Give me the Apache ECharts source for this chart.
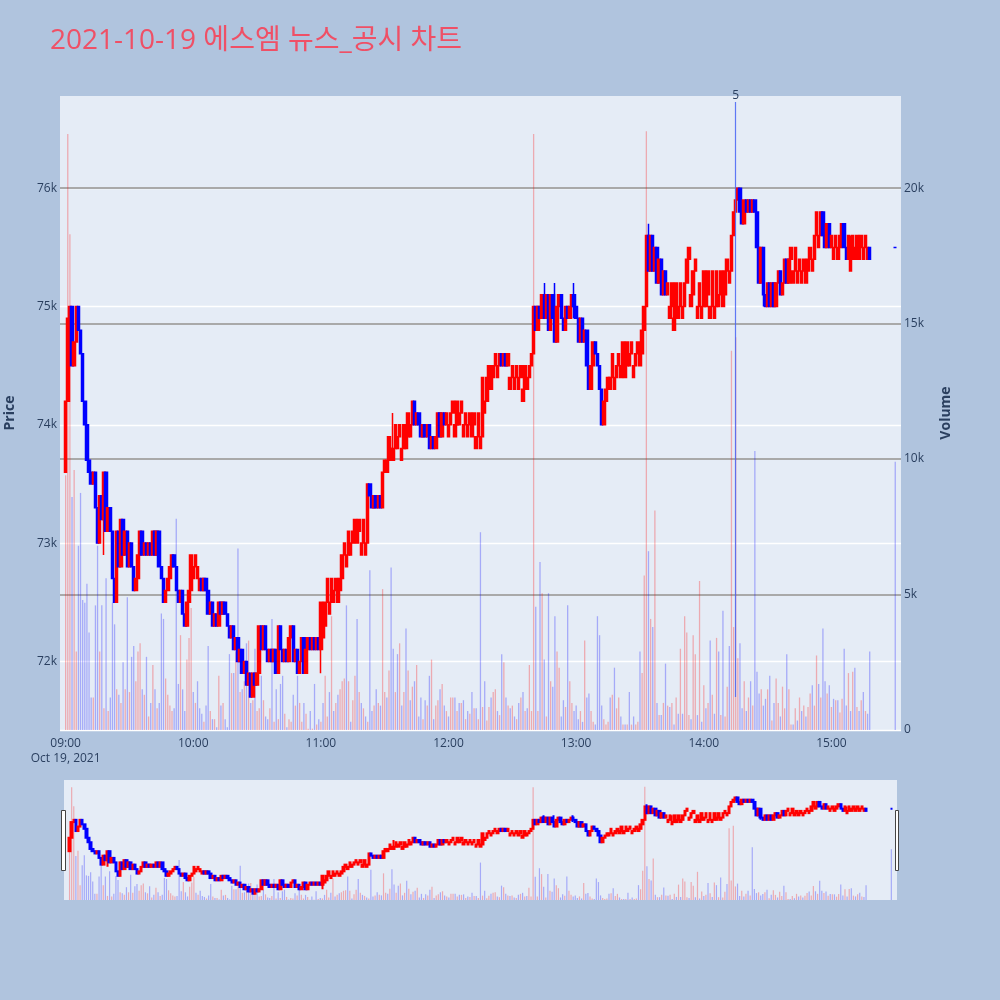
<!DOCTYPE html>
<html>
<head>
<meta charset="utf-8">
<script src="https://cdn.jsdelivr.net/npm/echarts@6/dist/echarts.min.js"></script>
<style>
html, body { margin: 0; padding: 0; background: #B0C4DE; }
#main { width: 1000px; height: 1000px; }
</style>
</head>
<body>
<div id="main"></div>
<script>
// 1분봉 데이터 (가격은 100원 단위, 09:00 부터 1분 간격)
var firstOpen = 736;
var closes = [
    742, 749, 750, 745, 747, 750, 748, 746, 742, 740,
    737, 736, 735, 736, 733, 730, 734, 732, 736, 731,
    733, 731, 727, 725, 731, 728, 732, 729, 731, 728,
    730, 728, 726, 727, 729, 731, 729, 730, 729, 730,
    729, 731, 729, 731, 728, 727, 725, 726, 727, 728,
    729, 728, 726, 725, 726, 724, 723, 725, 726, 729,
    728, 729, 728, 727, 726, 727, 726, 724, 725, 723,
    724, 723, 725, 724, 725, 724, 723, 722, 723, 721,
    722, 720, 721, 719, 720, 718, 719, 717, 719, 718,
    719, 723, 721, 723, 721, 720, 721, 720, 721, 719,
    723, 721, 720, 721, 720, 722, 723, 720, 721, 719,
    720, 722, 719, 721, 722, 721, 722, 721, 722, 721,
    725, 723, 725, 727, 725, 727, 726, 727, 726, 727,
    729, 730, 729, 731, 730, 731, 732, 731, 732, 730,
    732, 730, 735, 734, 733, 734, 733, 734, 733, 736,
    737, 737, 739, 738, 738, 740, 739, 740, 738, 740,
    739, 741, 740, 742, 740, 741, 740, 739, 740, 739,
    740, 738, 739, 738, 739, 741, 739, 741, 740, 741,
    740, 741, 742, 740, 742, 741, 742, 740, 741, 740,
    741, 740, 741, 739, 741, 739, 744, 742, 744, 745,
    744, 745, 746, 745, 746, 745, 746, 745, 746, 744,
    745, 744, 745, 744, 745, 743, 745, 744, 745, 746,
    750, 748, 750, 749, 751, 749, 751, 748, 751, 749,
    747, 750, 751, 749, 748, 750, 749, 750, 751, 750,
    749, 747, 749, 747, 748, 745, 743, 745, 747, 746,
    745, 743, 740, 742, 743, 744, 744, 746, 744, 745,
    746, 745, 747, 745, 747, 746, 747, 745, 746, 747,
    746, 748, 750, 756, 753, 756, 753, 755, 752, 754,
    751, 753, 751, 752, 750, 752, 749, 752, 750, 752,
    750, 752, 754, 755, 751, 753, 754, 750, 752, 750,
    753, 751, 753, 750, 753, 750, 753, 751, 753, 751,
    753, 754, 753, 756, 758, 759, 760, 758, 757, 759,
    758, 759, 758, 759, 758, 755, 752, 755, 751, 750,
    752, 750, 752, 750, 752, 753, 751, 752, 754, 752,
    754, 755, 753, 755, 753, 754, 753, 754, 753, 754,
    755, 754, 756, 758, 756, 758, 756, 755, 757, 755,
    756, 755, 756, 755, 756, 757, 755, 754, 756, 754,
    756, 755, 756, 755, 756, 755, 756, 755, 754
];
// 꼬리 [분, 고가, 저가]
var wicks = [
    [18, 736, 729], [120, 725, 719], [154, 741, 737], [225, 752, 749],
    [230, 752, 747], [239, 752, 749], [274, 757, 753], [286, 752, 749],
    [328, 755, 750], [369, 756, 753]
];
// 양봉(빨강)이 이어지는 구간 [시작 분, 끝 분]: 시가가 종가보다 한 호가 아래
var redRuns = [
    [59, 63], [120, 141], [149, 162], [180, 204], [209, 218],
    [253, 270], [283, 312], [340, 354], [360, 364], [369, 377]
];

// 거래량 (구간별 시작 분: volStarts)
var volStarts = [0, 97, 192, 290];
var volSeg1 = [
    9400, 22000, 18300, 8600, 9600,
    2900, 6800, 8750, 4800, 4700, 5400, 3600, 1200, 1200, 4600,
    6800, 2900, 4600, 800, 5600, 700, 1200, 4700, 3900, 1500,
    1300, 1000, 2500, 1500, 4900, 1400, 2700, 3100, 1800, 2900,
    3200, 1500, 1300, 2700, 500, 1000, 2400, 1500, 800, 1000,
    4300, 4100, 1900, 1300, 900, 700, 800, 7800, 1700, 3500,
    1500, 700, 2600, 3400, 4500, 1400, 1000, 1800, 800, 600,
    300, 900, 3100, 700, 400, 400, 100, 2000, 900, 1000,
    400, 100, 2800, 2100, 2100, 2900, 6700, 1400, 1500, 1800,
    3200, 3300, 1000, 1100, 3000, 700, 800, 2000, 1100, 500,
    400, 800
];
var volSeg2 = [
    4100, 300, 1500, 400, 1700, 2000, 600, 100, 400, 300,
    1300, 900, 2000, 1000, 300, 1000, 600, 50, 700, 50,
    1700, 200, 400, 300, 1000, 2000, 500, 1400, 4200, 700,
    1000, 1300, 1500, 1800, 1900, 4600, 1800, 300, 1100, 2000,
    4100, 1400, 1000, 800, 500, 300, 5900, 700, 900, 1500,
    1000, 900, 5200, 1400, 1200, 2200, 6000, 3000, 1400, 2800,
    3200, 900, 1400, 3750, 2200, 1100, 1600, 1800, 2400, 500,
    1200, 400, 1100, 900, 2000, 2600, 400, 900, 1100, 1500,
    1700, 900, 700, 500, 1200, 1200, 1200, 700, 1000, 1000,
    1100, 400, 700, 600, 1400, 900, 900
];
var volSeg3 = [
    800, 800, 400, 7300, 850, 1800, 350, 850, 1200, 1400,
    1500, 700, 550, 2800, 2500, 1200, 900, 800, 900, 500,
    400, 1000, 1200, 1400, 700, 800, 2400, 700, 22000, 4550,
    700, 6200, 5050, 2600, 500, 5050, 1800, 1600, 4200, 2900,
    2300, 500, 1100, 850, 4600, 1800, 1000, 700, 900, 400,
    700, 300, 3300, 1200, 1350, 700, 300, 200, 4200, 3500,
    900, 400, 200, 300, 1200, 1300, 2300, 800, 1200, 500,
    200, 200, 200, 1400, 200, 500, 200, 300, 2900, 2100,
    5700, 22100, 6600, 4100, 3800, 8100, 1000, 550, 550, 1000,
    2450, 900, 850, 1000, 200, 1200, 600, 3000
];
var volSeg4 = [
    600, 4200, 3600, 550, 400, 3500, 2800, 550, 5500, 300,
    1650, 800, 1000, 3300, 1300, 600, 3400, 2900, 550, 4400,
    500, 1600, 3100, 14000, 3800, 14500, 2650, 3200, 800, 1800,
    700, 1200, 1800, 900, 10300, 2150, 1350, 1500, 900, 1150,
    1500, 2000, 350, 1000, 1900, 1000, 500, 1600, 800, 2800,
    1500, 200, 200, 800, 350, 1200, 700, 900, 500, 850,
    1350, 1650, 900, 2750, 1700, 1200, 3750, 1800, 1350, 1650,
    850, 1150, 1100, 1100, 650, 1150, 3000, 900, 2100, 700,
    2150, 2300, 850, 700, 1100, 1400, 700, 600, 2900
];
// 15:30 종가 단일가 [가격, 거래량]
var closeAuction = [755, 9900];
// 뉴스 표시선 (14:15, "5")
var newsMinute = 315;
var newsLabel = '5';
var newsRange = [71700, 76730];

var UP = '#ff0000', DOWN = '#0000ff';
var UP_VOL = 'rgba(255,0,0,0.28)', DOWN_VOL = 'rgba(0,0,255,0.28)';
var NEWS = 'rgba(70,100,245,0.85)';
var FONT = '"Open Sans", verdana, arial, sans-serif';
var TICK = '#2a3f5f';

function t(m) { return new Date(2021, 9, 19, 9, m).getTime(); }
function pad(n) { return n < 10 ? '0' + n : '' + n; }
function inRedRun(m) {
    return redRuns.some(function (r) { return m >= r[0] && m <= r[1]; });
}

var vols = [];
[volSeg1, volSeg2, volSeg3, volSeg4].forEach(function (seg, k) {
    seg.forEach(function (v, i) { vols[volStarts[k] + i] = v; });
});
var wickMap = {};
wicks.forEach(function (w) { wickMap[w[0]] = w; });

var candleData = [], volData = [];
var prev = firstOpen;
closes.forEach(function (c, m) {
    var o = prev;
    var volUp = c > prev;
    if (inRedRun(m) && c <= o) o = c - 1;
    var hi = Math.max(o, c), lo = Math.min(o, c);
    if (wickMap[m]) {
        hi = Math.max(hi, wickMap[m][1]);
        lo = Math.min(lo, wickMap[m][2]);
    }
    candleData.push([t(m), o * 100, c * 100, lo * 100, hi * 100]);
    if (vols[m] != null) {
        volData.push({ value: [t(m), vols[m]], itemStyle: { color: volUp ? UP_VOL : DOWN_VOL } });
    }
    prev = c;
});
var ca = closeAuction[0] * 100;
candleData.push({
    value: [t(390), ca, ca, ca, ca],
    itemStyle: { color: DOWN, color0: DOWN, borderColor: DOWN, borderColor0: DOWN }
});
volData.push({ value: [t(390), closeAuction[1]], itemStyle: { color: DOWN_VOL } });

var xMin = new Date(2021, 9, 19, 8, 57, 39).getTime();
var xMax = new Date(2021, 9, 19, 15, 32, 24).getTime();
var priceMin = 71420, priceMax = 76780;
var volMin = 0, volMax = 23400;

var candleStyle = {
    color: UP, color0: DOWN, borderColor: UP, borderColor0: DOWN, borderWidth: 1.5
};
var miniCandleStyle = {
    color: UP, color0: DOWN, borderColor: UP, borderColor0: DOWN, borderWidth: 2
};

var myChart = echarts.init(document.getElementById('main'));
var option = {
    backgroundColor: '#B0C4DE',
    animation: false,
    title: {
        text: '2021-10-19 에스엠 뉴스_공시 차트',
        left: 50,
        top: 27,
        padding: 0,
        textStyle: {
            color: '#ef5066',
            fontSize: 28,
            fontWeight: 'normal',
            fontFamily: '"Open Sans", "Noto Sans CJK KR", sans-serif'
        }
    },
    grid: [
        { left: 60, right: 99, top: 96, height: 634, show: true, backgroundColor: '#E5ECF6', borderWidth: 0, outerBoundsMode: 'none', containLabel: false },
        { left: 64, right: 103, top: 780, height: 120, show: true, backgroundColor: '#E5ECF6', borderWidth: 0, outerBoundsMode: 'none', containLabel: false }
    ],
    xAxis: [
        {
            type: 'time', gridIndex: 0, min: xMin, max: xMax, splitNumber: 6,
            axisLine: { show: false }, axisTick: { show: false },
            splitLine: { show: false },
            axisLabel: {
                color: TICK, fontSize: 12, fontFamily: FONT, margin: 6, lineHeight: 15,
                formatter: function (v) {
                    var d = new Date(v);
                    var s = pad(d.getHours()) + ':' + pad(d.getMinutes());
                    return (d.getHours() === 9 && d.getMinutes() === 0) ? s + '\nOct 19, 2021' : s;
                }
            }
        },
        { type: 'time', gridIndex: 1, min: xMin, max: xMax, show: false }
    ],
    yAxis: [
        {
            type: 'value', gridIndex: 0, position: 'left', min: priceMin, max: priceMax,
            name: 'Price', nameLocation: 'middle', nameGap: 43,
            nameTextStyle: { color: TICK, fontSize: 14, fontWeight: 'bold', fontFamily: FONT },
            axisLine: { show: false }, axisTick: { show: false },
            axisLabel: {
                color: TICK, fontSize: 12, fontFamily: FONT, margin: 3,
                showMinLabel: false, showMaxLabel: false,
                formatter: function (v) { return v % 1000 === 0 ? (v / 1000) + 'k' : ''; }
            },
            splitLine: { show: true, showMinLine: true, showMaxLine: false, lineStyle: { color: '#ffffff', width: 1.3 } }
        },
        {
            type: 'value', gridIndex: 0, position: 'right', min: volMin, max: volMax,
            name: 'Volume', nameLocation: 'middle', nameGap: 38,
            nameTextStyle: { color: TICK, fontSize: 14, fontWeight: 'bold', fontFamily: FONT },
            axisLine: { show: false }, axisTick: { show: false },
            axisLabel: {
                color: TICK, fontSize: 12, fontFamily: FONT, margin: 3,
                showMaxLabel: false,
                formatter: function (v) {
                    if (v === 0) return '0';
                    return v % 5000 === 0 ? (v / 1000) + 'k' : '';
                }
            },
            splitLine: { show: true, showMinLine: false, showMaxLine: false, lineStyle: { color: '#a9a9a9', width: 2 } }
        },
        { type: 'value', gridIndex: 1, min: priceMin, max: priceMax, show: false, splitLine: { show: false } },
        { type: 'value', gridIndex: 1, min: volMin, max: volMax, show: false, splitLine: { show: false } }
    ],
    series: [
        {
            name: 'Volume', type: 'bar', xAxisIndex: 0, yAxisIndex: 1,
            barWidth: 1.3, data: volData, z: 1
        },
        {
            name: 'Price', type: 'candlestick', xAxisIndex: 0, yAxisIndex: 0,
            barWidth: 3, data: candleData, itemStyle: candleStyle, z: 2,
            markLine: {
                silent: true,
                symbol: ['none', 'none'],
                itemStyle: { color: NEWS },
                lineStyle: { color: NEWS, width: 1.2, type: 'solid', opacity: 1 },
                emphasis: { disabled: true },
                label: {
                    show: true, position: 'end', distance: 0,
                    formatter: newsLabel, color: TICK, fontSize: 12, fontFamily: FONT
                },
                data: [[
                    { coord: [t(newsMinute), newsRange[0]], lineStyle: { color: NEWS } },
                    { coord: [t(newsMinute), newsRange[1]] }
                ]]
            }
        },
        {
            type: 'bar', xAxisIndex: 1, yAxisIndex: 3,
            barWidth: 1.2, data: volData, z: 1
        },
        {
            type: 'candlestick', xAxisIndex: 1, yAxisIndex: 2,
            barWidth: 2, data: candleData, itemStyle: miniCandleStyle, z: 2
        }
    ],
    // 레인지 슬라이더 손잡이
    graphic: [
        { type: 'rect', shape: { x: 61.5, y: 810.5, width: 4, height: 60 }, style: { fill: '#ffffff', stroke: '#444444', lineWidth: 1 }, z: 100 },
        { type: 'rect', shape: { x: 895.5, y: 810.5, width: 3, height: 60 }, style: { fill: '#ffffff', stroke: '#444444', lineWidth: 1 }, z: 100 }
    ]
};
myChart.setOption(option);

window.addEventListener('resize', function () {
    myChart.resize();
});
</script>
</body>
</html>
